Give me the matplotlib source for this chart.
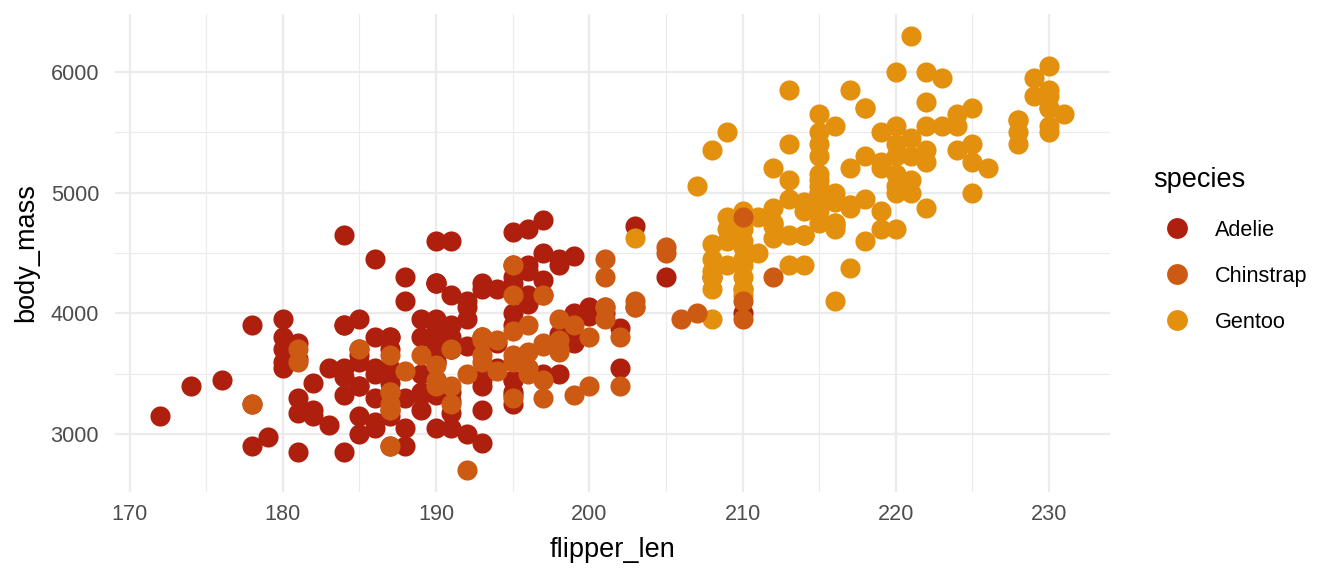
import matplotlib.pyplot as plt
from matplotlib.lines import Line2D

# flipper length (mm) and body mass (g)
adelie_flipper = [181, 186, 195, 193, 190, 181, 195, 193, 190, 186, 180, 182, 191, 198, 185, 195, 197, 184, 194,
                  174, 180, 189, 185, 180, 187, 183, 187, 172, 180, 178, 178, 188, 184, 195, 196, 190, 180, 181, 184,
                  182, 195, 186, 196, 185, 190, 182, 179, 190, 191, 186, 188, 190, 200, 187, 191, 186, 193, 181, 194,
                  185, 195, 185, 192, 184, 192, 195, 188, 190, 198, 190, 190, 196, 197, 190, 195, 191, 184, 187, 195,
                  189, 196, 187, 193, 191, 194, 190, 189, 189, 190, 202, 205, 185, 186, 187, 208, 190, 196, 178, 192,
                  192, 203, 183, 190, 193, 184, 199, 190, 181, 197, 198, 191, 193, 197, 191, 196, 188, 199, 189, 189,
                  187, 198, 176, 202, 186, 199, 191, 195, 191, 210, 190, 197, 193, 199, 187, 190, 191, 200, 185, 193,
                  193, 187, 188, 190, 192, 185, 190, 184, 195, 193, 187, 201]
adelie_mass = [3750, 3800, 3250, 3450, 3650, 3625, 4675, 3475, 4250, 3300, 3700, 3200, 3800, 4400, 3700, 3450, 4500,
               3325, 4200, 3400, 3600, 3800, 3950, 3800, 3800, 3550, 3200, 3150, 3950, 3250, 3900, 3300, 3900, 3325,
               4150, 3950, 3550, 3300, 4650, 3150, 3900, 3100, 4400, 3000, 4600, 3425, 2975, 3450, 4150, 3500, 4300,
               3450, 4050, 2900, 3700, 3550, 3800, 2850, 3750, 3150, 4400, 3600, 4050, 2850, 3950, 3350, 4100, 3050,
               4450, 3600, 3900, 3550, 4150, 3700, 4250, 3700, 3900, 3550, 4000, 3200, 4700, 3800, 4200, 3350, 3550,
               3800, 3500, 3950, 3600, 3550, 4300, 3400, 4450, 3300, 4300, 3700, 4350, 2900, 4100, 3725, 4725, 3075,
               4250, 2925, 3550, 3750, 3900, 3175, 4775, 3825, 4600, 3200, 4275, 3900, 4075, 2900, 3775, 3350, 3325,
               3150, 3500, 3450, 3875, 3050, 4000, 3275, 4300, 3050, 4000, 3325, 3500, 3500, 4475, 3425, 3900, 3175,
               3975, 3400, 4250, 3400, 3475, 3050, 3725, 3000, 3650, 4250, 3475, 3450, 3750, 3700, 4000]

gentoo_flipper = [211, 230, 210, 218, 215, 210, 211, 219, 209, 215, 214, 216, 214, 213, 210, 217, 210, 221, 209,
                  222, 218, 215, 213, 215, 215, 215, 216, 215, 210, 220, 222, 209, 207, 230, 220, 220, 213, 219,
                  208, 208, 208, 225, 210, 216, 222, 217, 210, 225, 213, 215, 210, 220, 210, 225, 217, 220, 208,
                  220, 208, 224, 208, 221, 214, 231, 219, 230, 214, 229, 220, 223, 216, 221, 221, 217, 216, 230,
                  209, 220, 215, 223, 212, 221, 212, 224, 212, 228, 218, 218, 212, 230, 218, 228, 212, 224, 214,
                  226, 216, 222, 203, 225, 219, 228, 215, 228, 216, 215, 210, 219, 208, 209, 216, 229, 213, 230,
                  217, 230, 217, 222, 214, 215, 222, 212, 213]
gentoo_mass = [4500, 5700, 4450, 5700, 5400, 4550, 4800, 5200, 4400, 5150, 4650, 5550, 4650, 5850, 4200, 5850, 4150,
               6300, 4800, 5350, 5700, 5000, 4400, 5050, 5000, 5100, 4100, 5650, 4600, 5550, 5250, 4700, 5050, 6050,
               5150, 5400, 4950, 5250, 4350, 5350, 3950, 5700, 4300, 4750, 5550, 4900, 4200, 5400, 5100, 5300, 4850,
               5300, 4400, 5000, 4900, 5050, 4300, 5000, 4450, 5550, 4200, 5300, 4400, 5650, 4700, 5700, 4650, 5800,
               4700, 5550, 4750, 5000, 5100, 5200, 4700, 5800, 4600, 6000, 4750, 5950, 4625, 5450, 4725, 5350, 4750,
               5600, 4600, 5300, 4875, 5550, 4950, 5400, 4750, 5650, 4850, 5200, 4925, 4875, 4625, 5250, 4850, 5600,
               4975, 5500, 4725, 5500, 4700, 5500, 4575, 5500, 5000, 5950, 4650, 5500, 4375, 5850, 4875, 6000, 4925,
               4850, 5750, 5200, 5400]

chinstrap_flipper = [192, 196, 193, 188, 197, 198, 178, 197, 195, 198, 193, 194, 185, 201, 190, 201, 197, 181, 190,
                     195, 181, 191, 187, 193, 195, 197, 200, 200, 191, 205, 187, 201, 187, 203, 195, 199, 195, 210,
                     192, 205, 210, 187, 196, 196, 196, 201, 190, 212, 187, 198, 199, 201, 193, 203, 187, 197, 191,
                     203, 202, 194, 206, 189, 195, 207, 202, 193, 210, 198]
chinstrap_mass = [3500, 3900, 3650, 3525, 3725, 3950, 3250, 3750, 4150, 3700, 3800, 3775, 3700, 4050, 3575, 4050,
                  3300, 3700, 3450, 4400, 3600, 3400, 2900, 3800, 3300, 4150, 3400, 3800, 3700, 4550, 3200, 4300,
                  3350, 4100, 3600, 3900, 3850, 4800, 2700, 4500, 3950, 3650, 3550, 3500, 3675, 4450, 3400, 4300,
                  3250, 3675, 3325, 3950, 3600, 4050, 3350, 3450, 3250, 4050, 3800, 3525, 3950, 3650, 3650, 4000,
                  3400, 3775, 4100, 3775]

species = ["Adelie", "Chinstrap", "Gentoo"]
colors = {"Adelie": "#AE1F0E", "Chinstrap": "#CC5A12", "Gentoo": "#E3900F"}

plt.rcParams['font.family'] = ['Liberation Sans', 'DejaVu Sans']

fig = plt.figure(figsize=(13.44, 5.76), dpi=100)
ax = fig.add_axes([0.0856, 0.146, 0.740, 0.830])

# same drawing order as the rows of the data: Adelie, Gentoo, Chinstrap
ax.scatter(adelie_flipper, adelie_mass, s=210, color=colors["Adelie"], linewidths=0, zorder=3)
ax.scatter(gentoo_flipper, gentoo_mass, s=210, color=colors["Gentoo"], linewidths=0, zorder=3)
ax.scatter(chinstrap_flipper, chinstrap_mass, s=210, color=colors["Chinstrap"], linewidths=0, zorder=3)

ax.set_xlim(169.05, 233.95)
ax.set_ylim(2520, 6480)
ax.set_xticks(range(170, 231, 10))
ax.set_yticks(range(3000, 6001, 1000))
ax.set_xticks(range(175, 231, 10), minor=True)
ax.set_yticks(range(3500, 6001, 1000), minor=True)
ax.grid(which="major", color="#EBEBEB", linewidth=1.6, zorder=0)
ax.grid(which="minor", color="#EBEBEB", linewidth=0.8, zorder=0)
ax.set_axisbelow(True)
for sp in ax.spines.values():
    sp.set_visible(False)
ax.tick_params(which="both", length=0)
ax.tick_params(axis="both", labelsize=15.6, labelcolor="#4D4D4D")
ax.tick_params(axis="x", pad=8.5)
ax.tick_params(axis="y", pad=11.5)

ax.set_xlabel("flipper_len", fontsize=19.5, color="black", labelpad=9)
ax.set_ylabel("body_mass", fontsize=19.5, color="black", labelpad=8)

# legend, placed by hand in figure pixels
W, H = 1344, 576
fig.text(1153 / W, 1 - 187 / H, "species", fontsize=19.5, ha="left", va="baseline")
for i, sp in enumerate(species):
    yk = 228 + 46 * i
    fig.add_artist(Line2D([1177 / W], [1 - yk / H], transform=fig.transFigure, marker="o", linestyle="",
                          markersize=15, color=colors[sp], markeredgewidth=0))
    fig.text(1215 / W, 1 - (236 + 46 * i) / H, sp, fontsize=15.6, ha="left", va="baseline")

fig.savefig("out.png", dpi=100)
